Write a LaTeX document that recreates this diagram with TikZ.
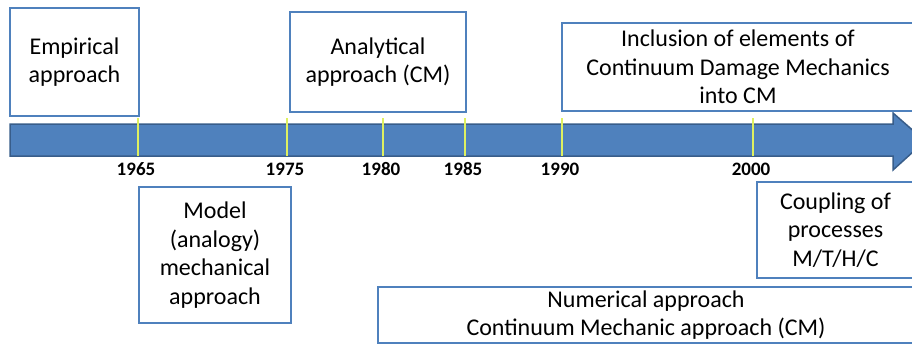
\documentclass[tikz,border=0pt]{standalone}
\usepackage{fontspec}
\setmainfont{Carlito}
\definecolor{boxblue}{RGB}{79,129,189}
\definecolor{baredge}{RGB}{56,93,138}
\definecolor{tickgreen}{RGB}{222,240,96}
\tikzset{
  era/.style={draw=boxblue, line width=2pt, align=center, inner sep=0pt,
    font=\fontsize{24}{28.5}\selectfont},
  yearlbl/.style={font=\fontsize{19}{22}\selectfont\bfseries}
}
\begin{document}
\begin{tikzpicture}[x=1pt, y=-1pt]
      \useasboundingbox (0,0) rectangle (912,346);
      \clip (0,0) rectangle (912,346);

      \draw[fill=boxblue, draw=baredge, line width=1.5pt]
        (10,124) -- (893,124) -- (893,113) -- (925,141) -- (893,170)
        -- (893,156) -- (10,156) -- cycle;

      \foreach \x/\yr in {138/1965, 287/1975, 383/1980, 465/1985, 562/1990, 753/2000}{
        \coordinate (t\yr) at (\x,118);
        \coordinate (b\yr) at (\x,156);
        \draw[tickgreen, line width=1.5pt] (t\yr) -- (b\yr);
        \node[yearlbl] (y\yr) at (\x-2,169.5) {\yr};
      }

      \node[era, minimum width=129, minimum height=108] (emp)   at (74.5,62)  {Empirical\\approach};
      \node[era, minimum width=176, minimum height=100] (ana)   at (378,62)   {Analytical\\approach (CM)};
      \node[era, minimum width=352, minimum height=88]  (incl)  at (738,67)   {Inclusion of elements of\\Continuum Damage Mechanics\\into CM};

      \node[era, minimum width=152, minimum height=136] (model) at (215,255)  {Model\\(analogy)\\mechanical\\approach};
      \node[era, minimum width=157, minimum height=96]  (coup)  at (835.5,230) {Coupling of\\processes\\M/T/H/C};
      \node[era, minimum width=536, minimum height=56]  (num)   at (646,315)  {Numerical approach\\Continuum Mechanic approach (CM)};
    \end{tikzpicture}
\end{document}
